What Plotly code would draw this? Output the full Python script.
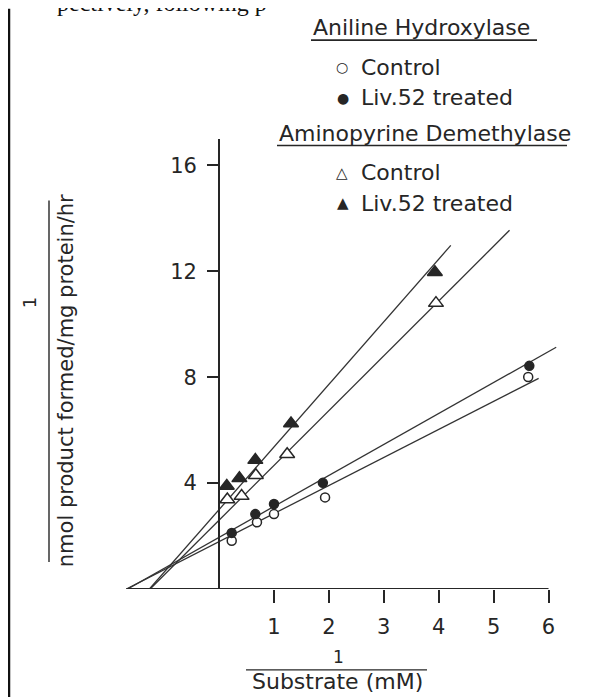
import plotly.graph_objects as go

# ---------------- data ----------------
ah_ctrl_x = [0.23, 0.69, 1.00, 1.93, 5.63]
ah_ctrl_y = [1.82, 2.52, 2.83, 3.46, 8.01]
ah_liv_x = [0.23, 0.66, 1.00, 1.89, 5.65]
ah_liv_y = [2.12, 2.83, 3.21, 4.01, 8.43]
ad_ctrl_x = [0.15, 0.41, 0.67, 1.24, 3.95]
ad_ctrl_y = [3.38, 3.51, 4.30, 5.09, 10.80]
ad_liv_x = [0.14, 0.37, 0.66, 1.31, 3.93]
ad_liv_y = [3.89, 4.18, 4.87, 6.25, 11.97]

# fitted straight lines (slope, y-intercept, right end in x)
line_slope = [1.06, 1.17, 2.07, 2.365]
line_icept = [1.79, 1.95, 2.60, 3.00]
line_x_end = [5.82, 6.14, 5.29, 4.22]

x_ticks = [1, 2, 3, 4, 5, 6]
y_ticks = [4, 8, 12, 16]

FONT = "DejaVu Sans"
INK = "#262626"

# ---------------- layout geometry ----------------
# the page body has an 8px margin, so the figure starts at page (8, 8)
OFF = 8
W, H = 594 - OFF, 697 - OFF
ML, MT = 123 - OFF, 138.5 - OFF
PW, PH = 442, 450.5
XR = [-1.75, 6.3]
YR = [0, 17]


def px_x(px):
    # page pixel -> paper fraction
    return (px - OFF - ML) / PW


def px_y(py):
    return (MT + PH - (py - OFF)) / PH


fig = go.Figure()

# regression lines (from x-intercept to the drawn end)
for m, c, xe in zip(line_slope, line_icept, line_x_end):
    xs = -c / m
    fig.add_trace(go.Scatter(x=[xs, xe], y=[m * xs + c, m * xe + c], mode="lines",
                             line=dict(color="#333333", width=1.3), hoverinfo="skip"))

mk_line = dict(color=INK, width=1.5)
fig.add_trace(go.Scatter(x=ah_ctrl_x, y=ah_ctrl_y, mode="markers", cliponaxis=False,
                         marker=dict(symbol="circle", size=9, color="white", line=mk_line)))
fig.add_trace(go.Scatter(x=ah_liv_x, y=ah_liv_y, mode="markers", cliponaxis=False,
                         marker=dict(symbol="circle", size=9, color=INK, line=mk_line)))
fig.add_trace(go.Scatter(x=ad_ctrl_x, y=ad_ctrl_y, mode="markers", cliponaxis=False,
                         marker=dict(symbol="triangle-up", size=13, color="white", line=mk_line)))
fig.add_trace(go.Scatter(x=ad_liv_x, y=ad_liv_y, mode="markers", cliponaxis=False,
                         marker=dict(symbol="triangle-up", size=13, color=INK, line=mk_line)))

shapes = []
# x axis line (from the left end to 6)
shapes.append(dict(type="line", xref="x", yref="y", x0=-1.69, x1=6, y0=0, y1=0,
                   line=dict(color=INK, width=2)))
# underlines of legend headings
shapes.append(dict(type="line", xref="paper", yref="paper", x0=px_x(311), x1=px_x(537),
                   y0=px_y(39.5), y1=px_y(39.5), line=dict(color=INK, width=1.6)))
shapes.append(dict(type="line", xref="paper", yref="paper", x0=px_x(277), x1=px_x(567),
                   y0=px_y(145), y1=px_y(145), line=dict(color=INK, width=1.6)))
# fraction bars of axis titles
shapes.append(dict(type="line", xref="paper", yref="paper", x0=px_x(246), x1=px_x(427),
                   y0=px_y(670), y1=px_y(670), line=dict(color=INK, width=1.4)))
shapes.append(dict(type="line", xref="paper", yref="paper", x0=px_x(49), x1=px_x(49),
                   y0=px_y(200), y1=px_y(562), line=dict(color=INK, width=1.4)))
# left page border
shapes.append(dict(type="line", xref="paper", yref="paper", x0=px_x(9), x1=px_x(9),
                   y0=px_y(OFF), y1=px_y(697), line=dict(color="#111111", width=2.5)))

ann = []


def text(s, px, py, size=22, xanchor="left", angle=0, fam=FONT):
    ann.append(dict(text=s, xref="paper", yref="paper", x=px_x(px), y=px_y(py),
                    xanchor=xanchor, yanchor="middle", showarrow=False, textangle=angle,
                    font=dict(family=fam, size=size, color=INK)))


text("Aniline Hydroxylase", 311, 26.5)
text("\u25cb", 342, 66.5, size=14, xanchor="center")
text("Control", 359, 66.5)
text("\u25cf", 343, 97, size=14, xanchor="center")
text("Liv.52 treated", 359, 97)
text("Aminopyrine Demethylase", 277, 133)
text("\u25b3", 342, 172.5, size=15, xanchor="center")
text("Control", 359, 172.5)
text("\u25b2", 343, 203, size=15, xanchor="center")
text("Liv.52 treated", 359, 203)

# axis titles
text("1", 338, 657, size=17, xanchor="center")
text("Substrate (mM)", 337, 682, size=22, xanchor="center")
text("1", 29, 303, size=18, xanchor="center", angle=-90)
text("nmol product formed/mg protein/hr", 66, 381, size=21, xanchor="center", angle=-90)

# cropped line of page text at the very top
ann.append(dict(text="pectively, following p", xref="paper", yref="paper",
                x=px_x(55), y=px_y(17), xanchor="left", yanchor="bottom", showarrow=False,
                font=dict(family="Liberation Serif", size=24, color="#111111")))

fig.update_layout(
    width=W, height=H, autosize=False,
    margin=dict(l=ML, r=W - ML - PW, t=MT, b=H - MT - PH, pad=0),
    paper_bgcolor="white", plot_bgcolor="white", showlegend=False,
    shapes=shapes, annotations=ann,
    xaxis=dict(range=XR, tickvals=x_ticks, ticks="outside", ticklen=13, tickwidth=2,
               tickcolor=INK, showline=False, showgrid=False, zeroline=False,
               ticklabelstandoff=6, tickfont=dict(family=FONT, size=21, color=INK),
               fixedrange=True),
    yaxis=dict(range=YR, tickvals=y_ticks, ticks="outside", ticklen=11, tickwidth=2,
               tickcolor=INK, showline=True, linewidth=2, linecolor=INK,
               anchor="free", position=(0 - XR[0]) / (XR[1] - XR[0]),
               showgrid=False, zeroline=False, ticklabelstandoff=6,
               tickfont=dict(family=FONT, size=21, color=INK), fixedrange=True),
)

fig.write_html("out.html")
